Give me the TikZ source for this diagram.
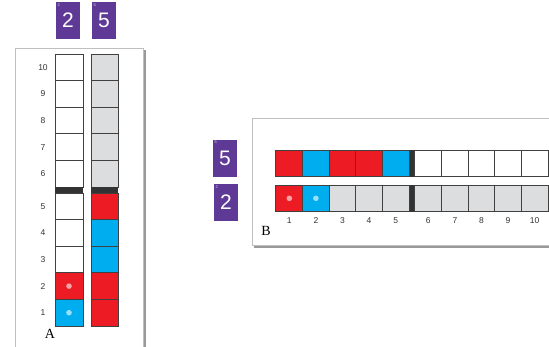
\documentclass[tikz,border=0pt]{standalone}
\usepackage{fontspec}
\setmainfont{Liberation Serif}
\setsansfont{Liberation Sans}
\usetikzlibrary{positioning}
\definecolor{cardpurple}{HTML}{5E3A96}
\definecolor{beadred}{HTML}{ED1C24}
\definecolor{beadblue}{HTML}{00AEEF}
\definecolor{emptygray}{HTML}{DCDDDE}
\definecolor{bardark}{HTML}{333333}

\begin{document}
\begin{tikzpicture}[x=1pt, y=-1pt,
  cell/.style={draw=black!75, line width=0.8pt, inner sep=0pt, minimum width=27pt, minimum height=26.6pt},
  card/.style={fill=cardpurple, text=white, font=\sffamily\fontsize{21}{21}\selectfont, inner sep=0pt, minimum width=24pt, minimum height=37pt},
  tinymark/.style={text=white!75!cardpurple, font=\sffamily\fontsize{4}{4}\selectfont, inner sep=1.5pt, anchor=north west},
  numlbl/.style={font=\sffamily\fontsize{8.5}{9}\selectfont, text=black!80},
  panel/.style={draw=black!25, fill=white, line width=0.6pt},
  shade/.style={fill=black!40, draw=none},
  reddot/.style={fill=beadred!40!white},
  bluedot/.style={fill=beadblue!40!white}]
\clip (0,0) rectangle (549,346);

% panel A frame
\fill[shade] (17,50) rectangle (145.5,360);
\draw[panel] (15,48) rectangle (143,360);

% panel B frame
\fill[shade] (254,120.5) rectangle (560,247.5);
\draw[panel] (252,118) rectangle (560,245);

% cards A
\node[card, label={[tinymark]north west:2}] (cardA2) at (68,20.5) {2};
\node[card, label={[tinymark]north west:5}] (cardA5) at (104,20.5) {5};

% cards B
\node[card, label={[tinymark]north west:5}] (cardB5) at (225,158) {5};
\node[card, label={[tinymark]north west:2}] (cardB2) at (226,202.5) {2};

% column A, left: 1 + 1 on the rack
\foreach \k/\c in {1/beadblue,2/beadred,3/white,4/white,5/white,6/white,7/white,8/white,9/white,10/white} {
  \pgfmathsetmacro{\yc}{\k<6 ? 326-(\k-0.5)*26.6 : 187-(\k-5.5)*26.6}
  \node[cell, fill=\c, minimum width=28pt] (aL-\k) at (69,\yc) {};
  \node[numlbl] (nA-\k) at (43,\yc) {\k};
}
% column A, right
\foreach \k/\c in {1/beadred,2/beadred,3/beadblue,4/beadblue,5/beadred,6/emptygray,7/emptygray,8/emptygray,9/emptygray,10/emptygray} {
  \pgfmathsetmacro{\yc}{\k<6 ? 326-(\k-0.5)*26.6 : 187-(\k-5.5)*26.6}
  \node[cell, fill=\c] (aR-\k) at (104.5,\yc) {};
}
\fill[bardark] (aL-6.south west) rectangle (aL-5.north east);
\fill[bardark] (aR-6.south west) rectangle (aR-5.north east);
\fill[bluedot] (aL-1) circle (2.8pt);
\fill[reddot] (aL-2) circle (2.8pt);
\node[font=\fontsize{14}{14}\selectfont] (labA) at (50,334) {A};

% row B, top
\foreach \k/\c in {1/beadred,2/beadblue,3/beadred,4/beadred,5/beadblue,6/white,7/white,8/white,9/white,10/white} {
  \pgfmathsetmacro{\xc}{\k<6 ? 276+(\k-0.5)*26.6 : 415+(\k-5.5)*26.6}
  \node[cell, fill=\c] (bT-\k) at (\xc,163.3) {};
}
% row B, bottom
\foreach \k/\c in {1/beadred,2/beadblue,3/emptygray,4/emptygray,5/emptygray,6/emptygray,7/emptygray,8/emptygray,9/emptygray,10/emptygray} {
  \pgfmathsetmacro{\xc}{\k<6 ? 276+(\k-0.5)*26.6 : 415+(\k-5.5)*26.6}
  \node[cell, fill=\c] (bB-\k) at (\xc,198.3) {};
  \node[numlbl] (nB-\k) at (\xc,221) {\k};
}
\fill[bardark] (bT-5.north east) rectangle (bT-6.south west);
\fill[bardark] (bB-5.north east) rectangle (bB-6.south west);
\fill[reddot] (bB-1) circle (2.8pt);
\fill[bluedot] (bB-2) circle (2.8pt);
\node[font=\fontsize{14}{14}\selectfont] (labB) at (266,231) {B};
\end{tikzpicture}
\end{document}
